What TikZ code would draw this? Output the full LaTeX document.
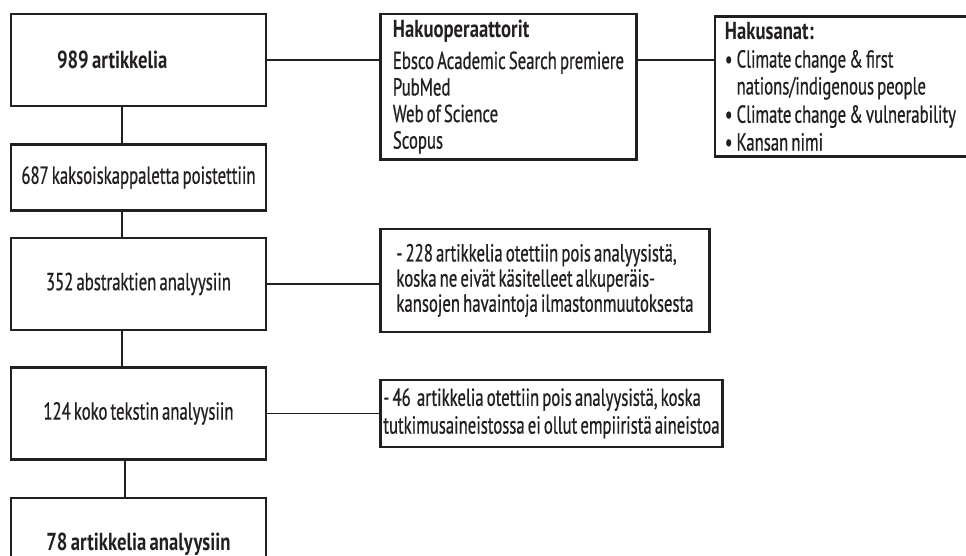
\documentclass[tikz,border=0pt]{standalone}
\usepackage{fontspec}
\setmainfont[WordSpace=0.7,
  UprightFeatures={FakeStretch=0.68, FakeBold=0.7},
  BoldFeatures={FakeStretch=0.76}]{PT Sans}
\usetikzlibrary{positioning}
\definecolor{ink}{HTML}{231F20}

\begin{document}
\begin{tikzpicture}[
  every node/.style={font=\fontsize{14}{13.5}\selectfont, text=ink},
  stage/.style ={rectangle, draw=ink, line width=1.4pt,
                 minimum width=5.1cm, minimum height=1.84cm, inner xsep=1pt},
  info/.style  ={rectangle, draw=ink, line width=1.4pt, align=flush left, inner xsep=0.2cm},
  link/.style  ={draw=ink, line width=0.8pt},
]
\clip (0,0) rectangle (19.32,-11.1);

% Main column
\node[stage, font=\fontsize{14}{13.5}\selectfont\bfseries,
      text width=3.26cm, align=flush left, inner xsep=0.92cm] at (2.77,-1.2) (art) {989 artikkelia};
\node[stage, minimum height=1.32cm, below=0.72cm of art]               (dup)   {687 kaksoiskappaletta poistettiin};
\node[stage, below=0.5cm of dup]                                       (abs)   {352 abstraktien analyysiin};
\node[stage, below=0.7cm of abs]                                       (full)  {124 koko tekstin analyysiin};
\node[stage, font=\fontsize{14}{13.5}\selectfont\bfseries,
      below=0.72cm of full]                                            (final) {78 artikkelia analyysiin};

\draw[link] ([xshift=-3.3mm]art.south)  -- ([xshift=-3.3mm]dup.north);
\draw[link] ([xshift=-3.3mm]dup.south)  -- ([xshift=-3.3mm]abs.north);
\draw[link] ([xshift=-3.3mm]abs.south)  -- ([xshift=-3.3mm]full.north);
\draw[link] ([xshift=-2.7mm]full.south) -- ([xshift=-2.7mm]final.north);

% Search sources and terms
\node[info, minimum width=5.12cm, minimum height=2.8cm,
      right=2.24cm of art.north east, anchor=north west]               (ops)
  {\textbf{Hakuoperaattorit}\\[4.5pt]
   Ebsco Academic Search premiere\\[1.6pt]
   PubMed\\[1.6pt]
   Web of Science\\[1.6pt]
   Scopus};
\node[info, text width=5.4cm, minimum height=2.8cm, right=1.52cm of ops] (keys)
  {\textbf{Hakusanat:}\\[2.3pt]
   \textbullet\,Climate change \& first\\[1.8pt]
   \phantom{\textbullet\,}nations/indigenous people\\[2.6pt]
   \textbullet\,Climate change \& vulnerability\\[2.3pt]
   \textbullet\,Kansan nimi};

\draw[link] (art.east) -- (art.east -| ops.west);
\draw[link] (ops.east |- art.east) -- (keys.west |- art.east);

% Exclusions
\node[info, inner xsep=0.06cm, minimum width=6.58cm, minimum height=2.06cm,
      right=2.24cm of abs, yshift=0.07cm]                              (out1)
  {- 228 artikkelia otettiin pois analyysistä,\\[0.8pt]
   koska ne eivät käsitelleet alkuperäis-\\[0.8pt]
   kansojen havaintoja ilmastonmuutoksesta};
\node[info, inner xsep=0.04cm, minimum width=6.84cm, minimum height=1.34cm,
      right=2.24cm of full]                                            (out2)
  {- 46\ \ artikkelia otettiin pois analyysistä, koska\\[2.3pt]
   tutkimusaineistossa ei ollut empiiristä aineistoa};

\draw[link] (abs.east)  -- (abs.east -| out1.west);
\draw[link] (full.east) -- (out2.west);

\end{tikzpicture}
\end{document}
